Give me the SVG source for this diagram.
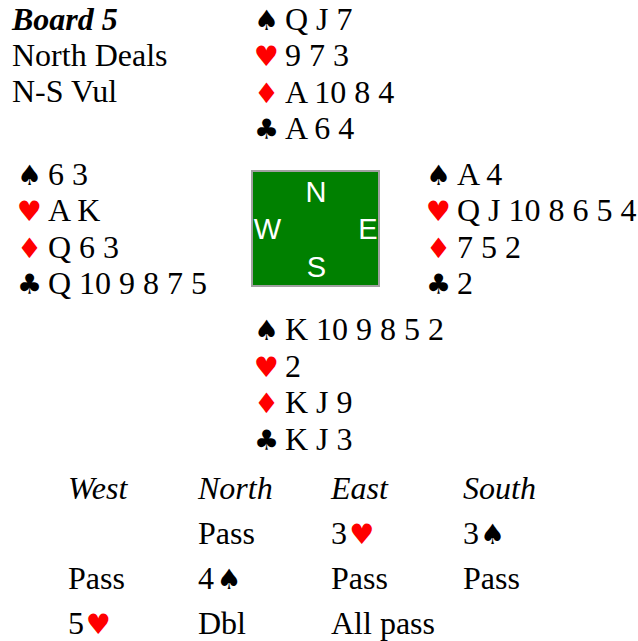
<svg xmlns="http://www.w3.org/2000/svg" width="638" height="641" viewBox="0 0 638 641">
<style>
text{font-family:"Liberation Serif","Times New Roman","DejaVu Serif",serif;font-size:32px;fill:#000}
.t{font-weight:bold;font-style:italic}
.i{font-style:italic}
.s{font-family:"DejaVu Sans",sans-serif;font-size:28px;text-anchor:middle}
.r{fill:#ff0000}
.c{font-family:"Liberation Sans",Arial,sans-serif;font-size:29px;fill:#fff;text-anchor:middle}
</style>
<rect width="638" height="641" fill="#fff"/>
<g id="info">
<text class="t" x="12" y="29.5">Board 5</text>
<text x="12" y="65.5">North Deals</text>
<text x="12" y="101.5">N-S Vul</text>
</g>
<g id="north">
<text class="s" x="266.5" y="30">♠</text><text x="285" y="30">Q J 7</text>
<text class="s r" x="266.5" y="66">♥</text><text x="285" y="66">9 7 3</text>
<text class="s r" x="266.5" y="102.5">♦</text><text x="285" y="102.5">A 10 8 4</text>
<text class="s" x="266.5" y="139">♣</text><text x="285" y="139">A 6 4</text>
</g>
<g id="west">
<text class="s" x="29.5" y="184.5">♠</text><text x="48" y="184.5">6 3</text>
<text class="s r" x="29.5" y="221">♥</text><text x="48" y="221">A K</text>
<text class="s r" x="29.5" y="257.5">♦</text><text x="48" y="257.5">Q 6 3</text>
<text class="s" x="29.5" y="294">♣</text><text x="48" y="294">Q 10 9 8 7 5</text>
</g>
<g id="east">
<text class="s" x="438.5" y="184.5">♠</text><text x="457" y="184.5">A 4</text>
<text class="s r" x="438.5" y="221">♥</text><text x="457" y="221">Q J 10 8 6 5 4</text>
<text class="s r" x="438.5" y="257.5">♦</text><text x="457" y="257.5">7 5 2</text>
<text class="s" x="438.5" y="294">♣</text><text x="457" y="294">2</text>
</g>
<g id="south">
<text class="s" x="266.5" y="340">♠</text><text x="285" y="340">K 10 9 8 5 2</text>
<text class="s r" x="266.5" y="376.5">♥</text><text x="285" y="376.5">2</text>
<text class="s r" x="266.5" y="413">♦</text><text x="285" y="413">K J 9</text>
<text class="s" x="266.5" y="449.5">♣</text><text x="285" y="449.5">K J 3</text>
</g>
<g id="compass">
<rect x="252" y="171" width="127" height="115" fill="#008000" stroke="#a0a0a0" stroke-width="2"/>
<text class="c" x="316" y="202">N</text>
<text class="c" x="267.5" y="239">W</text>
<text class="c" x="368" y="239">E</text>
<text class="c" x="316.5" y="276.5">S</text>
</g>
<g id="auction">
<text class="i" x="68" y="499">West</text>
<text class="i" x="198" y="499">North</text>
<text class="i" x="331" y="499">East</text>
<text class="i" x="463" y="499">South</text>
<text x="198" y="544">Pass</text>
<text x="331" y="544">3</text><text class="s r" x="362" y="544">♥</text>
<text x="463" y="544">3</text><text class="s" x="492.5" y="544">♠</text>
<text x="68" y="589">Pass</text>
<text x="198" y="589">4</text><text class="s" x="229" y="589">♠</text>
<text x="331" y="589">Pass</text>
<text x="463" y="589">Pass</text>
<text x="68" y="634">5</text><text class="s r" x="98.5" y="634">♥</text>
<text x="198" y="634">Dbl</text>
<text x="331" y="634">All pass</text>
</g>
</svg>
